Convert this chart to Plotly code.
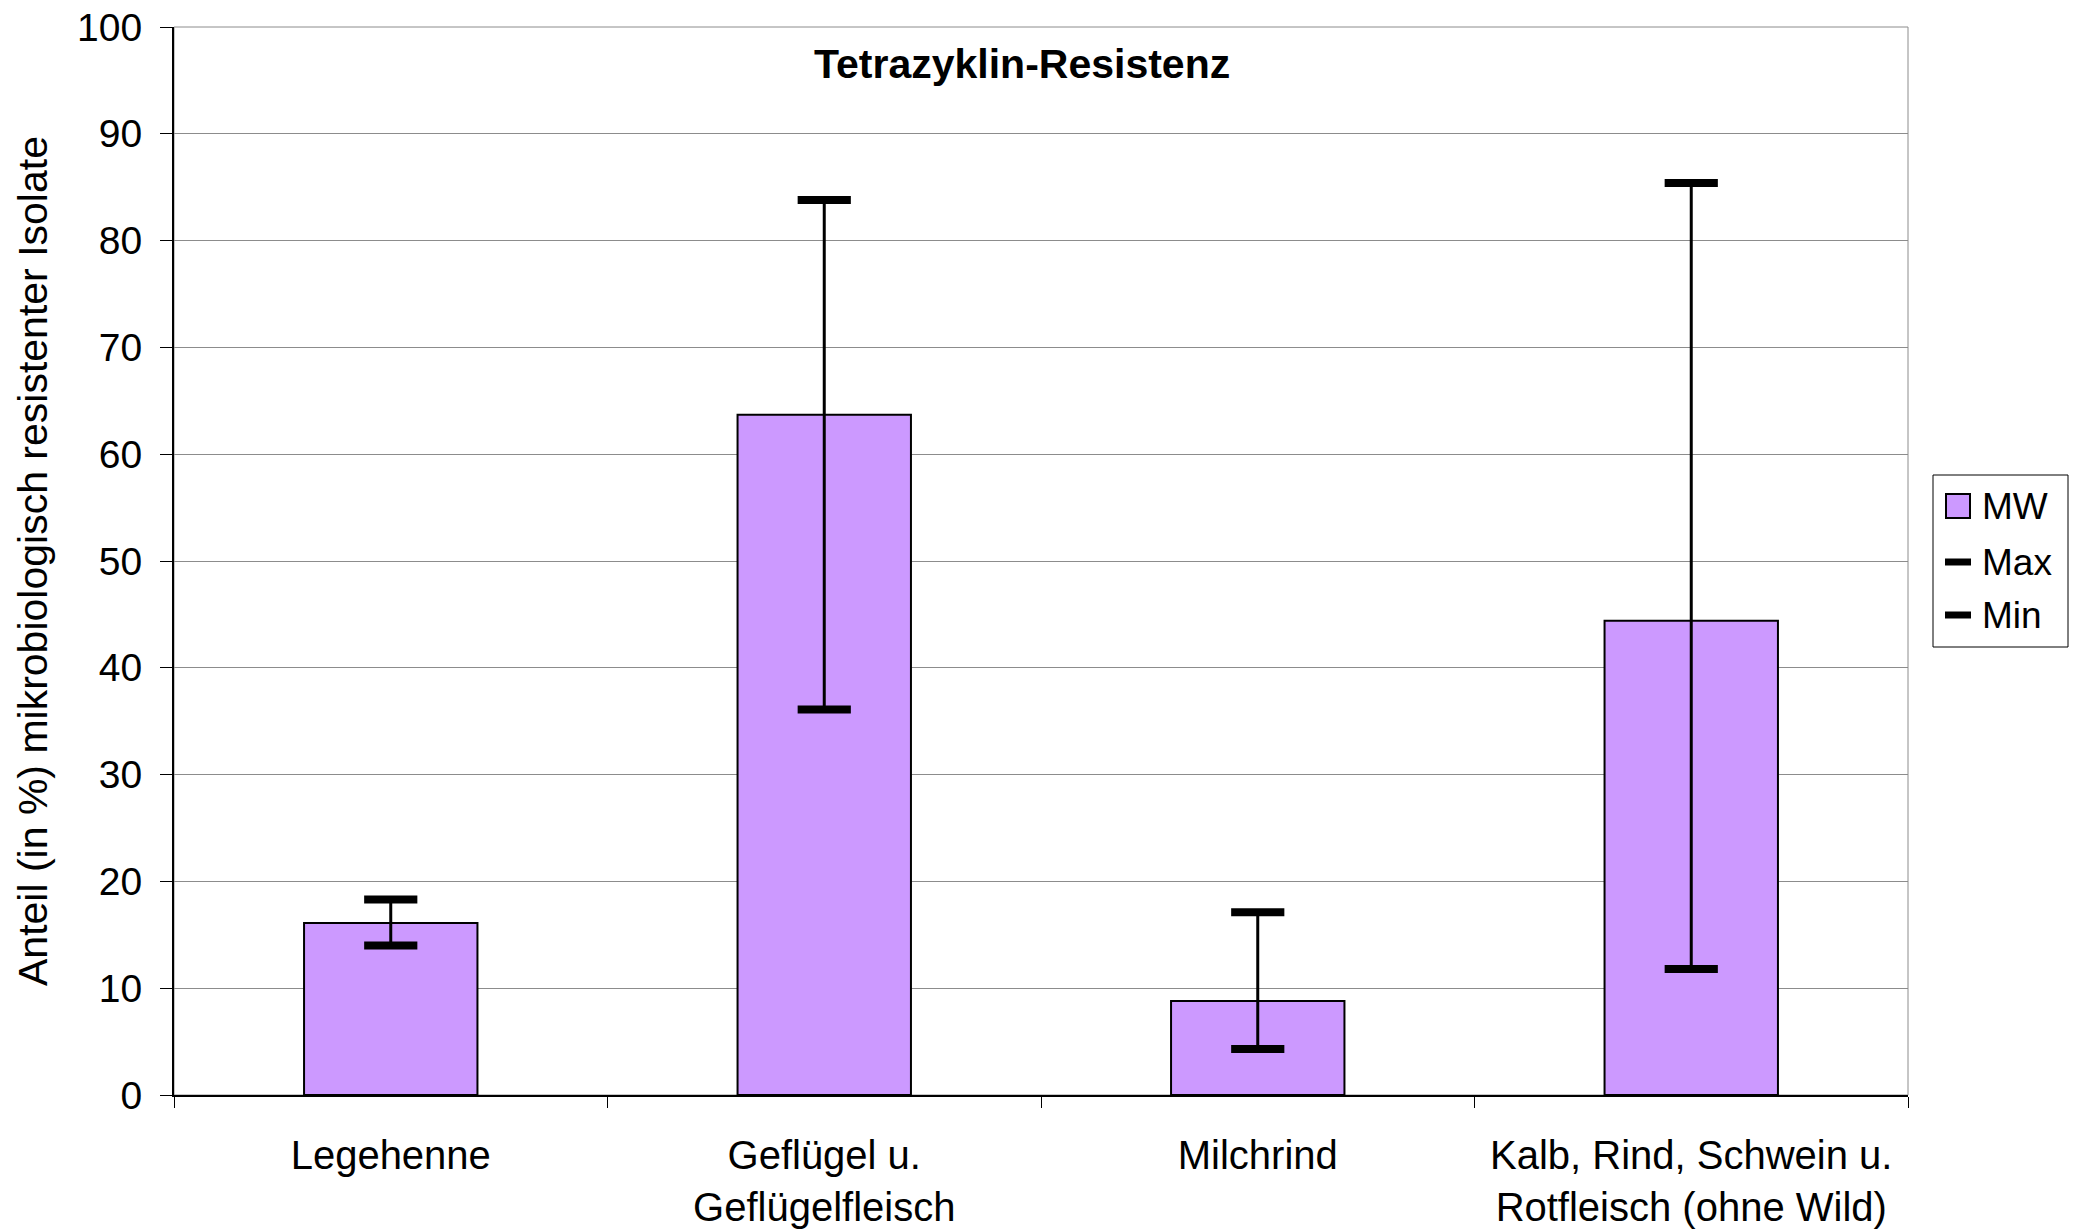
"""Tetrazyklin-Resistenz: Mittelwert mit Min/Max je Tierkategorie."""

import plotly.graph_objects as go

CATEGORIES = [
    "Legehenne",
    "Geflügel u.<br>Geflügelfleisch",
    "Milchrind",
    "Kalb, Rind, Schwein u.<br>Rotfleisch (ohne Wild)",
]
MW = [16.1, 63.7, 8.8, 44.4]
MAX_VALS = [18.3, 83.8, 17.1, 85.4]
MIN_VALS = [14.0, 36.1, 4.3, 11.8]
LEGEND_LABELS = ["MW", "Max", "Min"]

COLOR_BAR = "#CC99FF"
COLOR_GRID = "#8C8C8C"
FONT = "Liberation Sans, Arial, sans-serif"

# Seite hat 8px Body-Rand -> Figur beginnt bei (8, 8)
W, H = 2070, 1221
PLOT_L, PLOT_R, PLOT_T, PLOT_B = 174, 1908, 27, 1095  # in Seitenpixeln


def px(x):
    return (x - PLOT_L) / (PLOT_R - PLOT_L)


def py(y):
    return (PLOT_B - y) / (PLOT_B - PLOT_T)


fig = go.Figure()

fig.add_trace(
    go.Bar(
        x=CATEGORIES,
        y=MW,
        name="MW",
        width=0.4,
        marker={"color": COLOR_BAR, "line": {"color": "black", "width": 2}},
        showlegend=False,
    )
)

# Hoch-Tief-Linien zwischen Min und Max
line_x, line_y = [], []
for cat, lo, hi in zip(CATEGORIES, MIN_VALS, MAX_VALS):
    line_x += [cat, cat, None]
    line_y += [lo, hi, None]
fig.add_trace(
    go.Scatter(
        x=line_x,
        y=line_y,
        mode="lines",
        line={"color": "black", "width": 3},
        showlegend=False,
        hoverinfo="skip",
    )
)

for name, vals in (("Max", MAX_VALS), ("Min", MIN_VALS)):
    fig.add_trace(
        go.Scatter(
            x=CATEGORIES,
            y=vals,
            mode="markers",
            name=name,
            showlegend=False,
            marker={
                "symbol": "line-ew",
                "size": 38,
                "color": "black",
                "line": {"color": "black", "width": 8},
            },
        )
    )

fig.update_layout(
    width=W,
    height=H,
    paper_bgcolor="white",
    plot_bgcolor="white",
    margin={
        "l": PLOT_L - 8,
        "r": W - (PLOT_R - 8),
        "t": PLOT_T - 8,
        "b": H - (PLOT_B - 8),
        "autoexpand": False,
    },
    font={"family": FONT, "size": 40, "color": "black"},
    showlegend=False,
)

fig.add_annotation(
    text="<b>Tetrazyklin-Resistenz</b>",
    x=px(1022),
    y=py(64),
    xref="paper",
    yref="paper",
    yanchor="middle",
    showarrow=False,
    font={"size": 41},
)
fig.add_annotation(
    text="Anteil (in %) mikrobiologisch resistenter Isolate",
    x=px(33),
    y=0.5,
    xref="paper",
    yref="paper",
    textangle=-90,
    xanchor="center",
    yanchor="middle",
    showarrow=False,
    font={"size": 41},
)

fig.update_xaxes(
    type="category",
    tickson="boundaries",
    ticks="outside",
    ticklen=11,
    tickcolor="black",
    showline=True,
    linecolor="black",
    linewidth=2,
    showgrid=False,
    ticklabelstandoff=24,
    ticklabeloverflow="allow",
    tickfont={"size": 40},
)
fig.update_yaxes(
    range=[0, 100],
    dtick=10,
    ticks="outside",
    ticklen=12,
    tickcolor="black",
    showline=True,
    linecolor="black",
    linewidth=2,
    gridcolor=COLOR_GRID,
    gridwidth=1,
    zeroline=False,
    tickfont={"size": 39},
    ticklabelstandoff=10,
    ticklabeloverflow="allow",
)

fig.add_shape(
    type="rect", xref="paper", yref="paper", x0=0, x1=1, y0=0, y1=1,
    line={"color": COLOR_GRID, "width": 1}, layer="below",
)

# Legende (Excel-Stil)
fig.add_shape(
    type="rect", xref="paper", yref="paper",
    x0=px(1933), x1=px(2068), y0=py(647), y1=py(475),
    line={"color": "black", "width": 1}, fillcolor="white",
)
fig.add_shape(
    type="rect", xref="paper", yref="paper",
    x0=px(1946), x1=px(1970), y0=py(518), y1=py(494),
    line={"color": "black", "width": 2}, fillcolor=COLOR_BAR,
)
legend_y = [506, 562, 615]
for y in legend_y[1:]:
    fig.add_shape(
        type="line", xref="paper", yref="paper",
        x0=px(1945), x1=px(1971), y0=py(y), y1=py(y),
        line={"color": "black", "width": 7},
    )
for label, y in zip(LEGEND_LABELS, legend_y):
    fig.add_annotation(
        text=label, x=px(1980), y=py(y), xref="paper", yref="paper",
        xanchor="left", yanchor="middle", showarrow=False, font={"size": 37},
    )

fig.write_html("out.html")
